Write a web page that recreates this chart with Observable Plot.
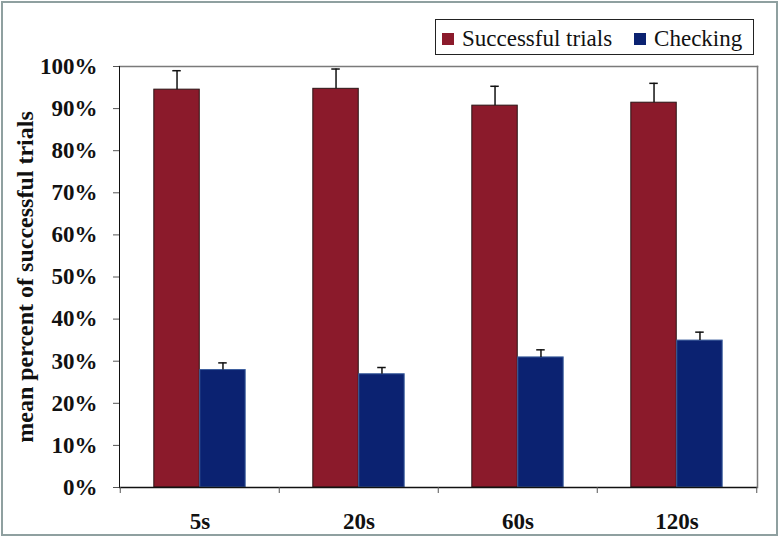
<!DOCTYPE html>
<html>
<head>
<meta charset="utf-8">
<script src="https://cdn.jsdelivr.net/npm/d3@7"></script>
<script src="https://cdn.jsdelivr.net/npm/@observablehq/plot@0.6"></script>
<style>
  html, body { margin: 0; padding: 0; background: #fff; }
  #wrap { position: relative; width: 782px; height: 537px; overflow: hidden; font-family: 'Liberation Serif', 'Times New Roman', Times, serif; }
  #border { position: absolute; left: 1px; top: 1px; width: 773px; height: 531px; border: 2px solid #8fa0a0; pointer-events: none; }
  #legend { position: absolute; left: 435px; top: 19px; width: 319px; height: 36px; border: 1px solid #222; background: #fff; display: flex; align-items: center; padding-top: 3px; font-size: 23px; color: #111; box-sizing: border-box; font-family: 'Liberation Serif', 'Times New Roman', Times, serif; }
  .sw { display: inline-block; width: 12px; height: 12px; margin-right: 8px; }
  .item { display: inline-flex; align-items: center; }
  #ytitle { position: absolute; left: 25px; top: 277px; transform: translate(-50%, -50%) rotate(-90deg); white-space: nowrap; font-weight: bold; font-size: 24px; color: #111; font-family: 'Liberation Serif', 'Times New Roman', Times, serif; }
  #chart svg text { font-family: 'Liberation Serif', 'Times New Roman', Times, serif !important; }
</style>
</head>
<body>
<div id="wrap">
  <div id="chart"></div>
  <div id="legend"></div>
  <div id="ytitle"></div>
  <div id="border"></div>
</div>
<script>
const intervals = ["5s", "20s", "60s", "120s"];
const seriesNames = ["Successful trials", "Checking"];
const successful = [0.945, 0.947, 0.907, 0.914];
const successfulErr = [0.045, 0.047, 0.046, 0.046];
const checking = [0.279, 0.269, 0.309, 0.349];
const checkingErr = [0.017, 0.016, 0.018, 0.020];
const yTicks = [0, 0.1, 0.2, 0.3, 0.4, 0.5, 0.6, 0.7, 0.8, 0.9, 1.0];
const colors = ["#8B1A2B", "#0B2271"];
const yTitle = "mean percent of successful trials";

const W = 782, H = 537;
const mL = 119, mR = 25, mT = 66, mB = 50;
const step = (W - mL - mR) / intervals.length;
const barW = step * 0.288;
const capW = 9;

const rows = [];
intervals.forEach((iv, i) => {
  rows.push({interval: iv, series: seriesNames[0], value: successful[i], err: successfulErr[i]});
  rows.push({interval: iv, series: seriesNames[1], value: checking[i], err: checkingErr[i]});
});
const red = rows.filter(d => d.series === seriesNames[0]);
const blue = rows.filter(d => d.series === seriesNames[1]);

const font = "'Liberation Serif', 'Times New Roman', Times, serif";

const plot = Plot.plot({
  width: W,
  height: H,
  marginLeft: mL,
  marginRight: mR,
  marginTop: mT,
  marginBottom: mB,
  style: {fontFamily: font, background: "transparent", color: "#111"},
  x: {type: "band", domain: intervals, padding: 0, label: null},
  y: {domain: [0, 1], label: null},
  marks: [
    Plot.frame({anchor: "top", stroke: "#7a7a7a", strokeWidth: 1.5}),
    Plot.frame({anchor: "right", stroke: "#7a7a7a", strokeWidth: 1.5}),
    Plot.barY(red, {x: "interval", y: "value", fill: colors[0], stroke: "#2a1515", strokeWidth: 1,
      insetLeft: step / 2 - barW, insetRight: step / 2}),
    Plot.barY(blue, {x: "interval", y: "value", fill: colors[1], stroke: "#3d5f9e", strokeWidth: 1,
      insetLeft: step / 2, insetRight: step / 2 - barW}),
    Plot.ruleX(red, {x: "interval", y1: "value", y2: d => d.value + d.err, dx: -barW / 2, stroke: "#111", strokeWidth: 1.5}),
    Plot.ruleX(blue, {x: "interval", y1: "value", y2: d => d.value + d.err, dx: barW / 2, stroke: "#111", strokeWidth: 1.5}),
    Plot.tickY(red, {x: "interval", y: d => d.value + d.err, stroke: "#111", strokeWidth: 1.5,
      insetLeft: step / 2 - barW / 2 - capW / 2, insetRight: step / 2 + barW / 2 - capW / 2}),
    Plot.tickY(blue, {x: "interval", y: d => d.value + d.err, stroke: "#111", strokeWidth: 1.5,
      insetLeft: step / 2 + barW / 2 - capW / 2, insetRight: step / 2 - barW / 2 - capW / 2}),
    Plot.frame({anchor: "left", stroke: "#111", strokeWidth: 1}),
    Plot.ruleY([0], {stroke: "#111", strokeWidth: 1.5}),
    Plot.axisY({ticks: yTicks, tickFormat: d3.format(".0%"), tickSize: 6, tickPadding: 16,
      fontSize: 23, fontWeight: "bold", fontFamily: font, label: null, stroke: "#555"}),
    Plot.axisX({tickSize: 0, tickPadding: 25, fontSize: 23, fontWeight: "bold", fontFamily: font, label: null}),
    Plot.axisX({tickSize: 6, tickFormat: () => "", dx: -step / 2, label: null, stroke: "#555"}),
    Plot.axisX({ticks: [intervals[intervals.length - 1]], tickSize: 6, tickFormat: () => "", dx: step / 2, label: null, stroke: "#555"})
  ]
});
document.getElementById("chart").appendChild(plot);

const legend = document.getElementById("legend");
seriesNames.forEach((name, i) => {
  const item = document.createElement("span");
  item.className = "item";
  item.style.marginLeft = i === 0 ? "6px" : "22px";
  const sw = document.createElement("span");
  sw.className = "sw";
  sw.style.background = colors[i];
  item.appendChild(sw);
  item.appendChild(document.createTextNode(name));
  legend.appendChild(item);
});
document.getElementById("ytitle").textContent = yTitle;
</script>
</body>
</html>
